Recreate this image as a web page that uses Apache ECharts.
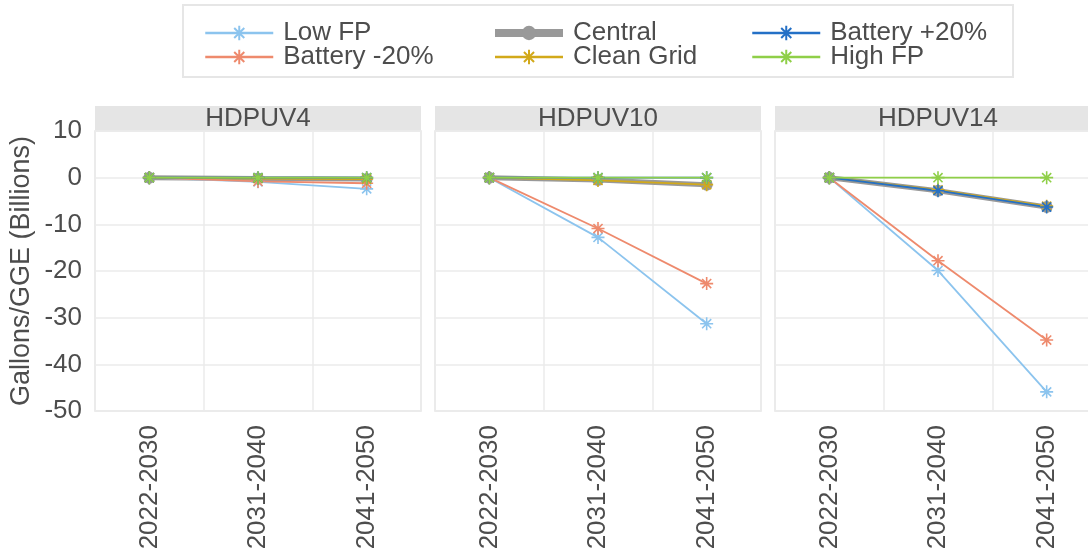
<!DOCTYPE html>
<html>
<head>
<meta charset="utf-8">
<script src="https://cdn.jsdelivr.net/npm/echarts@6/dist/echarts.min.js"></script>
<style>
html,body{margin:0;padding:0;background:#fff;overflow:hidden;width:1088px;height:557px;}
#chart{width:1110px;height:557px;}
</style>
</head>
<body>
<div id="chart"></div>
<script>
const categories = ['2022-2030', '2031-2040', '2041-2050'];
const panels = ['HDPUV4', 'HDPUV10', 'HDPUV14'];
const yTicks = [10, 0, -10, -20, -30, -40, -50];

const lowFP     = [[0, -0.9, -2.4], [0, -12.8, -31.3], [0, -19.9, -45.9]];
const battMinus = [[0, -0.8, -1.2], [0, -10.9, -22.7], [0, -17.8, -34.8]];
const central   = [[0, -0.2, -0.3], [0, -0.5, -1.5], [0, -2.8, -6.3]];
const cleanGrid = [[0, -0.2, -0.3], [0, -0.6, -1.5], [0, -2.6, -6.1]];
const battPlus  = [[0, 0, 0], [0, 0, 0], [0, -2.8, -6.3]];
const highFP    = [[0, 0, 0], [0, 0, 0], [0, 0, 0]];

const FONT = 'Liberation Sans, Arial, sans-serif';
const TXT = '#4d4d4d';
const GRIDC = '#ebebeb';
const ASTER = 'path://M0,5L10,5M5,0L5,10M1.5,1.5L8.5,8.5M1.5,8.5L8.5,1.5';

const seriesDefs = [
  { name: 'Central', data: central, color: '#999999', width: 5, symbol: 'circle', size: 12 },
  { name: 'Low FP', data: lowFP, color: '#8CC4EE', width: 1.8, symbol: ASTER, size: 13 },
  { name: 'Battery -20%', data: battMinus, color: '#EE8A6D', width: 1.8, symbol: ASTER, size: 13 },
  { name: 'Clean Grid', data: cleanGrid, color: '#D2A91A', width: 1.8, symbol: ASTER, size: 13 },
  { name: 'Battery +20%', data: battPlus, color: '#2470C6', width: 1.8, symbol: ASTER, size: 13 },
  { name: 'High FP', data: highFP, color: '#8FCF48', width: 1.8, symbol: ASTER, size: 13 }
];
const colorOf = {};
seriesDefs.forEach(d => { colorOf[d.name] = d; });

const panelLefts = [95, 435, 775];
const pw = 326, panelTop = 131, ph = 280;

const grids = [], xAxes = [], yAxes = [], seriesList = [], graphics = [];
panels.forEach((p, i) => {
  grids.push({ left: panelLefts[i], top: panelTop, width: pw, height: ph, show: true, borderColor: '#e3e3e3', borderWidth: 1.5, backgroundColor: '#fff' });
  xAxes.push({
    type: 'category', gridIndex: i, data: categories, boundaryGap: true,
    axisLine: { show: false }, axisTick: { show: false },
    splitLine: { show: true, lineStyle: { color: GRIDC, width: 1.5 } },
    axisLabel: { rotate: 90, fontSize: 26, color: TXT, fontFamily: FONT, margin: 14, interval: 0 }
  });
  yAxes.push({
    type: 'value', gridIndex: i, min: -50, max: 10, interval: 10,
    axisLine: { show: false }, axisTick: { show: false },
    splitLine: { show: true, lineStyle: { color: GRIDC, width: 1.5 } },
    axisLabel: { show: i === 0, fontSize: 26, color: TXT, fontFamily: FONT, margin: 13 },
    name: i === 0 ? 'Gallons/GGE (Billions)' : '',
    nameLocation: 'middle', nameGap: 60, nameRotate: 90,
    nameTextStyle: { fontSize: 27, color: TXT, fontFamily: FONT }
  });
  graphics.push({ type: 'rect', shape: { x: panelLefts[i], y: 106, width: pw, height: 25 }, style: { fill: '#e5e5e5' }, silent: true });
  graphics.push({ type: 'text', x: panelLefts[i] + pw / 2, y: 119, style: { text: p, fill: TXT, font: '26px ' + FONT, textAlign: 'center', textVerticalAlign: 'middle' }, silent: true });
  seriesDefs.forEach(d => {
    seriesList.push({
      type: 'line', name: d.name, xAxisIndex: i, yAxisIndex: i,
      data: d.data[i], symbol: d.symbol, symbolSize: d.size,
      lineStyle: { color: d.color, width: d.width },
      itemStyle: { color: d.color, borderColor: d.color, borderWidth: d.symbol === 'circle' ? 0 : 1.6 },
      showSymbol: true, animation: false, emphasis: { disabled: true }
    });
  });
});

graphics.push({ type: 'rect', shape: { x: 183, y: 5, width: 830, height: 72 }, style: { fill: 'none', stroke: '#e6e6e6', lineWidth: 2 }, silent: true, z: -1 });

function legendItem(name) {
  const d = colorOf[name];
  return {
    name: name,
    lineStyle: { color: d.color, width: name === 'Central' ? 8 : 2.5 },
    itemStyle: { color: d.color, borderColor: d.color, borderWidth: name === 'Central' ? 0 : 2 }
  };
}
const legendBase = {
  orient: 'vertical', itemWidth: 68, itemHeight: 18, itemGap: -2,
  textStyle: { fontSize: 26, lineHeight: 20, color: TXT, fontFamily: FONT, padding: [0, 0, 0, 5] },
  selectedMode: false
};
const legends = [
  Object.assign({}, legendBase, { left: 199, top: 15, data: ['Low FP', 'Battery -20%'].map(legendItem) }),
  Object.assign({}, legendBase, { left: 486, top: 15, data: ['Central', 'Clean Grid'].map(legendItem) }),
  Object.assign({}, legendBase, { left: 746, top: 15, data: ['Battery +20%', 'High FP'].map(legendItem) })
];

const chart = echarts.init(document.getElementById('chart'), null, { renderer: 'canvas' });
chart.setOption({
  animation: false,
  backgroundColor: '#ffffff',
  legend: legends,
  grid: grids, xAxis: xAxes, yAxis: yAxes, series: seriesList,
  graphic: graphics
});
</script>
</body>
</html>
